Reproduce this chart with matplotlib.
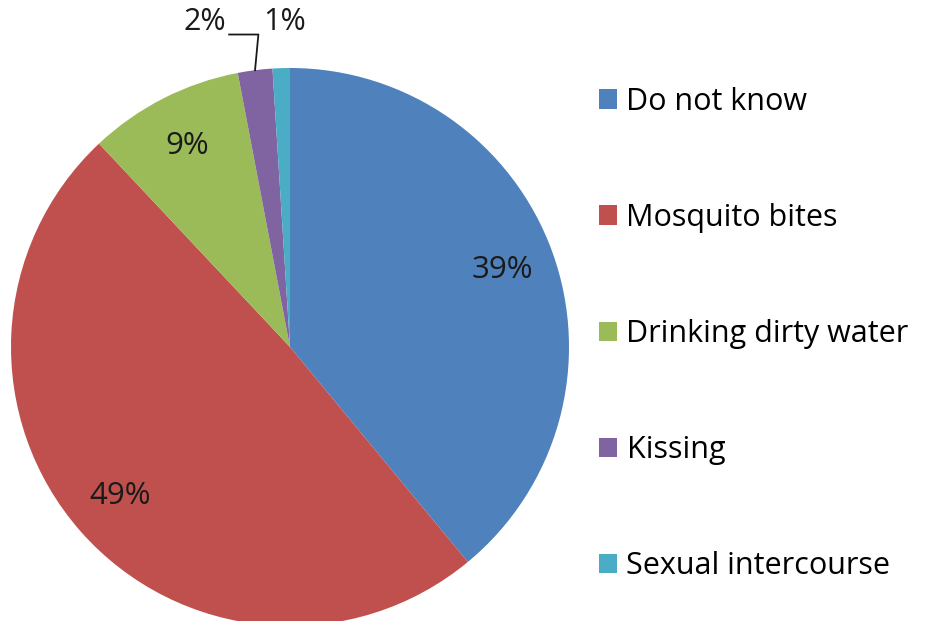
import numpy as np
import matplotlib
matplotlib.use("Agg")
import matplotlib.pyplot as plt
from matplotlib.patches import Patch

plt.rcParams['font.family'] = ['Open Sans', 'DejaVu Sans']

# donnees du camembert
categories = ["Do not know", "Mosquito bites", "Drinking dirty water",
              "Kissing", "Sexual intercourse"]
valeurs = [39, 49, 9, 2, 1]
couleurs = ["#4F81BD", "#C0504D", "#9BBB59", "#8064A2", "#4BACC6"]

fig = plt.figure(figsize=(9.25, 6.21), dpi=100)
# axes carre en pixels : centre (290, 347), rayon 279
cx, cy, R = 290, 347, 279
ax = fig.add_axes([(cx - R) / 925, (621 - cy - R) / 621, 2 * R / 925, 2 * R / 621])
ax.axis("off")

wedges, _ = ax.pie(valeurs, colors=couleurs, startangle=90, counterclock=False,
                   radius=1, wedgeprops=dict(linewidth=0))
ax.set_xlim(-1, 1)
ax.set_ylim(-1, 1)

total = sum(valeurs)
for w, v in zip(wedges, valeurs):
    ang = np.deg2rad((w.theta1 + w.theta2) / 2)
    txt = "%d%%" % round(100 * v / total)
    if v >= 5:
        r = 0.81
        ax.text(r * np.cos(ang), r * np.sin(ang), txt, ha="center", va="center",
                fontsize=22.5, color="#1a1a1a")

# petites parts : etiquettes au-dessus
ang_k = np.deg2rad((wedges[3].theta1 + wedges[3].theta2) / 2)
x0, y0 = np.cos(ang_k), np.sin(ang_k)
ax.plot([x0, x0 + 0.012, -0.218], [y0, 1.12, 1.12], color="#1a1a1a",
        lw=1.3, clip_on=False)
ax.text(-0.305, 1.165, "2%", ha="center", va="center", fontsize=22,
        color="#1a1a1a", clip_on=False)
ax.text(-0.02, 1.165, "1%", ha="center", va="center", fontsize=22,
        color="#1a1a1a", clip_on=False)

handles = [Patch(facecolor=c, edgecolor="none") for c in couleurs]
fig.legend(handles, categories, loc="center left",
           bbox_to_anchor=(599 / 925, 1 - 334 / 621), frameon=False,
           fontsize=22, handlelength=0.6, handleheight=0.6,
           handletextpad=0.3, labelspacing=2.82, borderpad=0,
           borderaxespad=0)

fig.savefig("out.png", dpi=100)
